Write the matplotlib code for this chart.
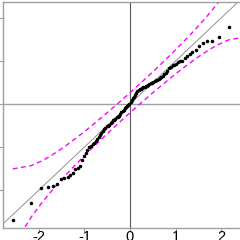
import numpy as np
import matplotlib
matplotlib.use("Agg")
import matplotlib.pyplot as plt
from statistics import NormalDist

plt.rcParams["font.family"] = ["Liberation Sans", "DejaVu Sans"]
plt.rcParams["axes.unicode_minus"] = False

# ── Data: ordered sample values ──────────────────────────────────────────────
sample = np.array([
    -2.69, -2.31, -1.96, -1.94, -1.91, -1.86, -1.74, -1.71, -1.69, -1.65,
    -1.60, -1.52, -1.48, -1.44, -1.30, -1.22, -1.15, -1.07, -1.01, -0.98,
    -0.94, -0.91, -0.87, -0.81, -0.77, -0.72, -0.67, -0.63, -0.58, -0.55,
    -0.52, -0.50, -0.48, -0.44, -0.41, -0.37, -0.36, -0.34, -0.31, -0.30,
    -0.28, -0.24, -0.18, -0.16, -0.13, -0.10, -0.08, -0.05, -0.02, 0.01,
    0.05, 0.09, 0.13, 0.17, 0.21, 0.26, 0.31, 0.33, 0.34, 0.36,
    0.37, 0.39, 0.40, 0.42, 0.43, 0.45, 0.47, 0.48, 0.50, 0.52,
    0.53, 0.55, 0.57, 0.58, 0.60, 0.62, 0.66, 0.71, 0.73, 0.77,
    0.83, 0.87, 0.90, 0.92, 0.94, 0.98, 1.00, 1.01, 1.06, 1.12,
    1.16, 1.20, 1.26, 1.36, 1.41, 1.47, 1.47, 1.55, 1.80, 2.18,
])
x_ticks = [-2, -1, 0, 1, 2]
y_ticks = [-2, -1, 0, 1, 2]

FIT_INTERCEPT = 0.03
FIT_SLOPE = 0.95
CONF = 0.95

# ── Theoretical quantiles + pointwise envelope ───────────────────────────────
nd = NormalDist()
n = len(sample)
P = (np.arange(1, n + 1) - 0.5) / n
z = np.array([nd.inv_cdf(p) for p in P])
dens = np.array([nd.pdf(v) for v in z])
zz = nd.inv_cdf(1 - (1 - CONF) / 2)
se = FIT_SLOPE / dens * np.sqrt(P * (1 - P) / n)
fit = FIT_INTERCEPT + FIT_SLOPE * z
upper = fit + zz * se
lower = fit - zz * se

# ── Figure (cropped view of a larger plot) ───────────────────────────────────
fig = plt.figure(figsize=(2.4, 2.4), dpi=100)
ax = fig.add_axes([3.4 / 240, 12 / 240, 253.2 / 240, 226 / 240])

xr = z.max() - z.min()
yr = sample.max() - sample.min()
ax.set_xlim(z.min() - 0.04 * xr, z.max() + 0.04 * xr)
ax.set_ylim(sample.min() - 0.04 * yr, sample.max() + 0.04 * yr)

ax.axhline(0, color="#a0a0a0", lw=1.0, zorder=1)
ax.axvline(0, color="#5a5a5a", lw=0.8, zorder=1)
ax.axline((0, 0), slope=1, color="#808080", lw=0.6, zorder=1)

ax.plot(z, upper, color="#ff00ff", lw=1.0, ls=(0, (3.5, 2.5)), zorder=2)
ax.plot(z, lower, color="#ff00ff", lw=1.0, ls=(0, (3.5, 2.5)), zorder=2)

ax.scatter(z, sample, s=6.5, color="black", linewidths=0, zorder=3)

for side in ["top", "left", "bottom", "right"]:
    ax.spines[side].set_color("#a0a0a0")
    ax.spines[side].set_linewidth(1.0)

ax.set_xticks(x_ticks)
ax.set_yticks(y_ticks)
ax.tick_params(direction="out", length=2.6, width=0.8, color="#a0a0a0",
               labelsize=10.5)
ax.tick_params(axis="x", pad=-1.5)
ax.tick_params(axis="y", pad=4)

fig.savefig("out.png", dpi=100)
